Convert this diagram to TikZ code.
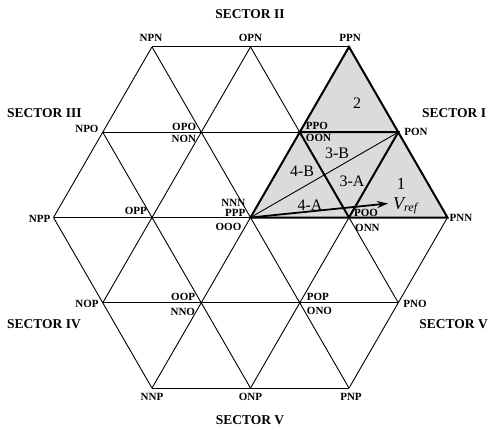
\documentclass[tikz,border=0pt]{standalone}
\usepackage{fontspec}
\setmainfont{Liberation Serif}
\usetikzlibrary{calc,arrows.meta}
\begin{document}
\begin{tikzpicture}[x=1pt,y=-1pt,
  thin line/.style={line width=0.9pt,black},
  thick line/.style={line width=2pt,black,line join=miter},
  vlbl/.style={font=\bfseries\fontsize{11}{11}\selectfont,inner sep=0pt},
  slbl/.style={font=\bfseries\fontsize{13.5}{13.5}\selectfont,inner sep=0pt},
  rlbl/.style={font=\fontsize{16}{16}\selectfont,inner sep=0pt}]
\useasboundingbox (0,0) rectangle (489,430);
% vertices
\coordinate (NPN) at (152,46.9);
\coordinate (OPN) at (250.5,46.9);
\coordinate (PPN) at (349,46.9);
\coordinate (NPO) at (102.75,132.2);
\coordinate (OPO) at (201.25,132.2);
\coordinate (PPO) at (299.75,132.2);
\coordinate (PON) at (398.25,132.2);
\coordinate (NPP) at (53.5,217.5);
\coordinate (OPP) at (152,217.5);
\coordinate (OOO) at (250.5,217.5);
\coordinate (POO) at (349,217.5);
\coordinate (PNN) at (447.5,217.5);
\coordinate (NOP) at (102.75,302.8);
\coordinate (OOP) at (201.25,302.8);
\coordinate (POP) at (299.75,302.8);
\coordinate (PNO) at (398.25,302.8);
\coordinate (NNP) at (152,388.1);
\coordinate (ONP) at (250.5,388.1);
\coordinate (PNP) at (349,388.1);
% shaded sector
\fill[gray!28] (OOO) -- (PNN) -- (PPN) -- cycle;
% grid
\draw[thin line] (NPN) -- (PPN);
\draw[thin line] (NPO) -- (PON);
\draw[thin line] (NPP) -- (PNN);
\draw[thin line] (NOP) -- (PNO);
\draw[thin line] (NNP) -- (PNP);
\draw[thin line] (NPP) -- (NPN);
\draw[thin line] (NOP) -- (OPN);
\draw[thin line] (NNP) -- (PPN);
\draw[thin line] (ONP) -- (PON);
\draw[thin line] (PNP) -- (PNN);
\draw[thin line] (NPP) -- (NNP);
\draw[thin line] (NPO) -- (ONP);
\draw[thin line] (NPN) -- (PNP);
\draw[thin line] (OPN) -- (PNO);
\draw[thin line] (PPN) -- (PNN);
\draw[thin line] (OOO) -- (PON);
% thick outlines
\draw[thick line] (OOO) -- (PNN) -- (PPN) -- cycle;
\draw[thick line] (PPO) -- (PON) -- (POO) -- cycle;
% Vref
\coordinate (Vtip) at (388,203.5);
\draw[line width=1.8pt,-{Stealth[length=11pt,width=7pt]}] (OOO) -- (Vtip);
% vertex labels
\node[vlbl] (lNPN) at ($(NPN)+(-1,-9)$) {NPN};
\node[vlbl] (lOPN) at ($(OPN)+(0,-9)$) {OPN};
\node[vlbl] (lPPN) at ($(PPN)+(1,-9)$) {PPN};
\node[vlbl,anchor=east] (lNPO) at ($(NPO)+(-4,-3)$) {NPO};
\node[vlbl,anchor=east] (lOPO) at ($(OPO)+(-5,-5)$) {OPO};
\node[vlbl,anchor=east] (lNON) at ($(OPO)+(-5,7)$) {NON};
\node[vlbl,anchor=west] (lPPO) at ($(PPO)+(6,-6)$) {PPO};
\node[vlbl,anchor=west] (lOON) at ($(PPO)+(6,6)$) {OON};
\node[vlbl,anchor=west] (lPON) at ($(PON)+(6,0)$) {PON};
\node[vlbl,anchor=east] (lNPP) at ($(NPP)+(-3,1)$) {NPP};
\node[vlbl,anchor=east] (lOPP) at ($(OPP)+(-5,-7)$) {OPP};
\node[vlbl,anchor=east] (lNNN) at ($(OOO)+(-5,-14.5)$) {NNN};
\node[vlbl,anchor=east] (lPPP) at ($(OOO)+(-5,-4.5)$) {PPP};
\node[vlbl,anchor=east] (lOOO) at ($(OOO)+(-9,9)$) {OOO};
\node[vlbl,anchor=west] (lPOO) at ($(POO)+(5,-5)$) {POO};
\node[vlbl,anchor=west] (lONN) at ($(POO)+(6,10)$) {ONN};
\node[vlbl,anchor=west] (lPNN) at ($(PNN)+(2,0)$) {PNN};
\node[vlbl,anchor=east] (lNOP) at ($(NOP)+(-4,1)$) {NOP};
\node[vlbl,anchor=east] (lOOP) at ($(OOP)+(-6,-6)$) {OOP};
\node[vlbl,anchor=east] (lNNO) at ($(OOP)+(-6,9)$) {NNO};
\node[vlbl,anchor=west] (lPOP) at ($(POP)+(7,-6)$) {POP};
\node[vlbl,anchor=west] (lONO) at ($(POP)+(7,8)$) {ONO};
\node[vlbl,anchor=west] (lPNO) at ($(PNO)+(5,1)$) {PNO};
\node[vlbl] (lNNP) at ($(NNP)+(0,9)$) {NNP};
\node[vlbl] (lONP) at ($(ONP)+(0,9)$) {ONP};
\node[vlbl] (lPNP) at ($(PNP)+(2,9)$) {PNP};
% sector labels
\node[slbl] (sII) at (250,14) {SECTOR II};
\node[slbl,anchor=west] (sI) at (422,113) {SECTOR I};
\node[slbl,anchor=west] (sIII) at (7,113) {SECTOR III};
\node[slbl,anchor=west] (sIV) at (7,324) {SECTOR IV};
\node[slbl,anchor=east] (sVI) at (488,324) {SECTOR V};
\node[slbl] (sV) at (250,420) {SECTOR V};
% region labels
\node[rlbl] (r2) at (357,103) {2};
\node[rlbl] (r3B) at (337,153) {3-B};
\node[rlbl] (r3A) at (352,181) {3-A};
\node[rlbl] (r4B) at (302,171) {4-B};
\node[rlbl] (r4A) at (310,205) {4-A};
\node[rlbl,font=\fontsize{17}{17}\selectfont] (r1) at (401,184) {1};
\node[inner sep=0pt,anchor=base west] (vref) at (393,209)
  {\fontsize{18}{18}\selectfont\itshape V\raisebox{-0.35ex}{\fontsize{12}{12}\selectfont ref}};
\end{tikzpicture}
\end{document}
